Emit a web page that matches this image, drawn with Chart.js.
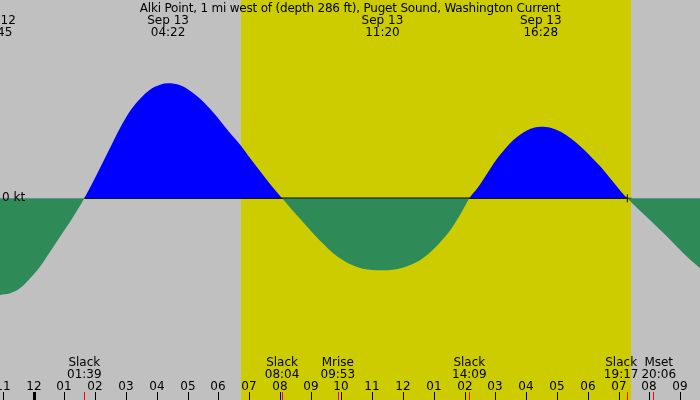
<!DOCTYPE html>
<html>
<head>
<meta charset="utf-8">
<script src="https://cdn.jsdelivr.net/npm/chart.js@4.4.1/dist/chart.umd.min.js"></script>
<style>
  html, body { margin: 0; padding: 0; background: #c0c0c0; }
  canvas { display: block; }
</style>
</head>
<body>
<canvas id="tideChart" width="700" height="400"></canvas>
<script>
const title = "Alki Point, 1 mi west of (depth 286 ft), Puget Sound, Washington Current";

// hours after midnight Sep 13, current in knots (+ flood, - ebb)
const hours = [-1.25, -1.09, -0.76, -0.44, -0.11, 0.21, 0.54, 0.86, 1.19, 1.51, 1.65,
  2.05, 2.43, 2.81, 3.13, 3.46, 3.78, 4.11, 4.37, 4.76, 5.08, 5.41, 5.73, 6.06, 6.38, 6.71, 7.03, 7.36, 7.68, 8.07,
  8.42, 8.74, 9.06, 9.39, 9.71, 10.04, 10.36, 10.69, 11.01, 11.33, 11.66, 11.99, 12.31, 12.64, 12.96, 13.29, 13.61, 13.94, 14.15,
  14.41, 14.63, 14.84, 15.06, 15.28, 15.49, 15.71, 15.93, 16.14, 16.47, 16.79, 17.12, 17.44, 17.77, 18.1, 18.43, 18.75, 19.08, 19.28,
  20.02, 20.56, 21.1, 21.64];
const speeds = [-0.98, -0.967, -0.95, -0.90, -0.80, -0.684, -0.534, -0.384, -0.234, -0.075, 0,
  0.236, 0.47, 0.703, 0.87, 0.996, 1.086, 1.136, 1.15, 1.13, 1.076, 0.996, 0.896, 0.776, 0.653, 0.536, 0.403, 0.27, 0.143, 0,
  -0.124, -0.234, -0.344, -0.45, -0.544, -0.617, -0.67, -0.704, -0.717, -0.72, -0.714, -0.694, -0.657, -0.60, -0.517, -0.41, -0.284, -0.117, 0,
  0.10, 0.20, 0.30, 0.40, 0.483, 0.556, 0.616, 0.663, 0.696, 0.716, 0.706, 0.666, 0.60, 0.516, 0.416, 0.31, 0.19, 0.066, 0,
  -0.22, -0.38, -0.55, -0.70];

const sunrise = 6.74;
const sunset = 19.40;

// max flood / max ebb labels along the top
const peakHours = [-1.25, 4.37, 11.33, 16.47];
const peakDates = ["Sep 12", "Sep 13", "Sep 13", "Sep 13"];
const peakTimes = ["22:45", "04:22", "11:20", "16:28"];

// slack and moon events along the bottom
const eventHours = [1.65, 8.07, 9.88, 14.15, 19.28, 20.10];
const eventNames = ["Slack", "Slack", "Mrise", "Slack", "Slack", "Mset"];
const eventTimes = ["01:39", "08:04", "09:53", "14:09", "19:17", "20:06"];

const tickHours = [-1, 0, 1, 2, 3, 4, 5, 6, 7, 8, 9, 10, 11, 12, 13, 14, 15, 16, 17, 18, 19, 20, 21];
const tickLabels = ["11", "12", "01", "02", "03", "04", "05", "06", "07", "08", "09", "10",
  "11", "12", "01", "02", "03", "04", "05", "06", "07", "08", "09"];

const FONT = "12px 'DejaVu Sans'";
const slackHours = eventHours.filter((h, i) => eventNames[i] === "Slack");
const firstSlack = slackHours[0];
const lastSlack = slackHours[slackHours.length - 1];

const backdrop = {
  id: "backdrop",
  beforeDraw(chart) {
    const ctx = chart.ctx, x = chart.scales.x;
    ctx.save();
    ctx.fillStyle = "#c0c0c0";
    ctx.fillRect(0, 0, chart.width, chart.height);
    const x0 = Math.round(x.getPixelForValue(sunrise)), x1 = Math.round(x.getPixelForValue(sunset));
    ctx.fillStyle = "#cccc00";
    ctx.fillRect(x0, 0, x1 - x0, chart.height);
    ctx.restore();
  }
};

const labels = {
  id: "labels",
  afterDraw(chart) {
    const ctx = chart.ctx, x = chart.scales.x, y = chart.scales.y;
    ctx.save();
    ctx.font = FONT;
    ctx.fillStyle = "#000";
    ctx.textBaseline = "alphabetic";
    ctx.textAlign = "center";

    ctx.letterSpacing = "-0.2px";
    ctx.fillText(title, chart.width / 2, 12);
    ctx.letterSpacing = "0px";

    peakHours.forEach((h, i) => {
      const px = x.getPixelForValue(h);
      ctx.fillText(peakDates[i], px, 24);
      ctx.fillText(peakTimes[i], px, 36);
    });

    // bottom event labels, pushed apart where they would overlap
    const pos = eventHours.map(h => x.getPixelForValue(h));
    const half = eventNames.map((n, i) => Math.max(ctx.measureText(n).width, ctx.measureText(eventTimes[i]).width) / 2);
    for (let i = 1; i < pos.length; i++) {
      const overlap = (pos[i - 1] + half[i - 1] + 3) - (pos[i] - half[i]);
      if (overlap > 0) { pos[i - 1] -= overlap / 2; pos[i] += overlap / 2; }
    }
    pos.forEach((px, i) => {
      ctx.fillText(eventNames[i], px, 366);
      ctx.fillText(eventTimes[i], px, 378);
    });

    tickHours.forEach((h, i) => {
      const px = Math.round(x.getPixelForValue(h));
      ctx.fillText(tickLabels[i], px, 390);
      ctx.fillRect(h === 0 ? px - 1 : px, 392, h === 0 ? 3 : 1, 8);
    });

    ctx.fillStyle = "#ff0000";
    eventHours.forEach(h => {
      ctx.fillRect(Math.round(x.getPixelForValue(h)), 392, 1, 8);
    });

    ctx.fillStyle = "#000";
    ctx.textAlign = "left";
    ctx.textBaseline = "middle";
    ctx.fillText("0 kt", 2, y.getPixelForValue(0));
    ctx.restore();
  }
};

new Chart(document.getElementById("tideChart"), {
  type: "line",
  data: {
    datasets: [
      {
        data: hours.map((h, i) => ({ x: h, y: speeds[i] })),
        fill: { target: "origin", above: "#0000ff", below: "#2e8b57" },
        borderColor: "rgba(0,0,0,0)",
        borderWidth: 0,
        pointRadius: 0,
        cubicInterpolationMode: "monotone"
      },
      {
        data: [{ x: firstSlack, y: 0 }, { x: lastSlack, y: 0 }],
        borderColor: "#000",
        borderWidth: 1.5,
        fill: false,
        pointStyle: "cross",
        pointRadius: [0, 4],
        pointBorderColor: "#000",
        pointBorderWidth: 1
      }
    ]
  },
  options: {
    responsive: false,
    animation: false,
    devicePixelRatio: 1,
    layout: { padding: 0, autoPadding: false },
    scales: {
      x: { type: "linear", min: -1.088, max: 21.64, display: false },
      y: { min: -2.017, max: 1.983, display: false }
    },
    plugins: { legend: { display: false }, tooltip: { enabled: false } }
  },
  plugins: [backdrop, labels]
});
</script>
</body>
</html>
